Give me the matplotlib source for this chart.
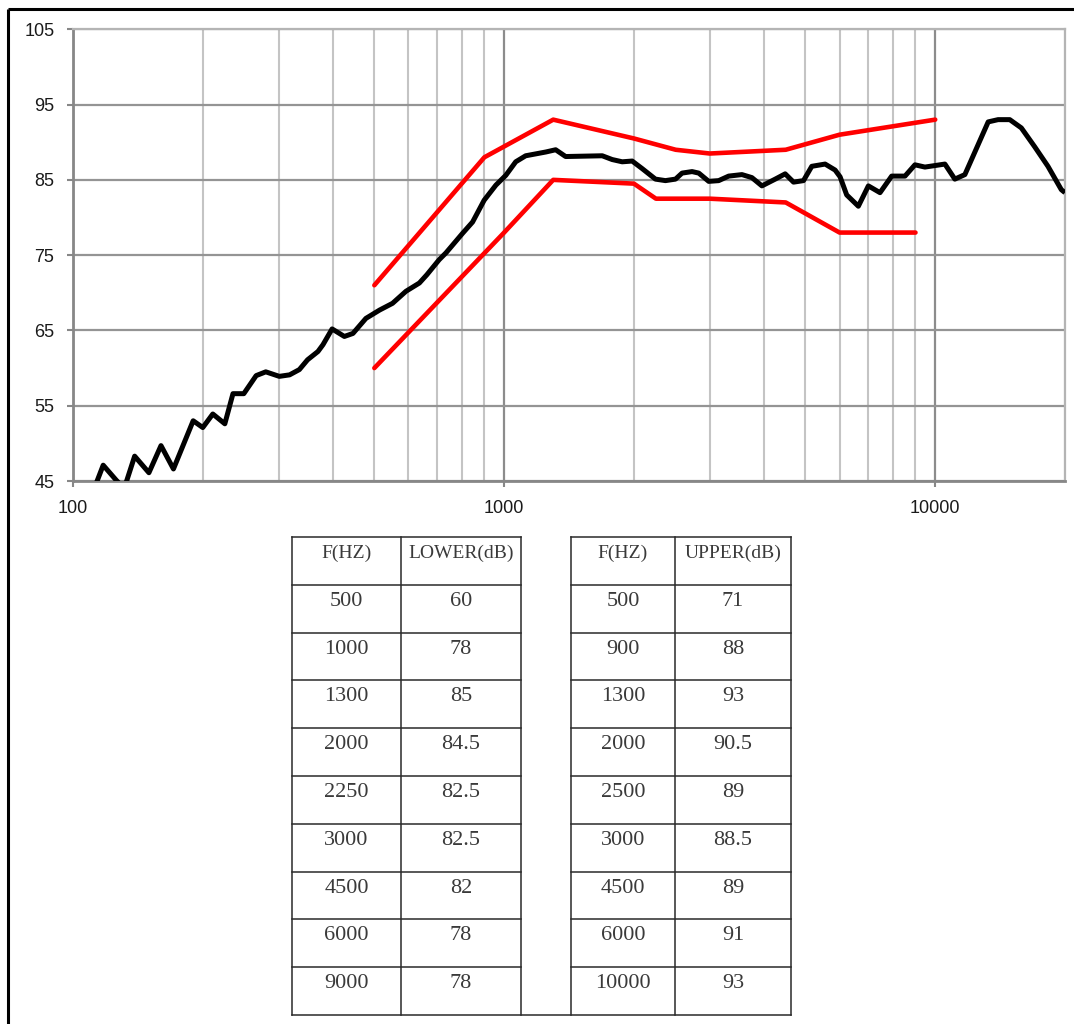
import matplotlib
matplotlib.use("Agg")
import matplotlib.pyplot as plt
from matplotlib.ticker import LogLocator, FuncFormatter, NullFormatter, FixedLocator

# ---------------- data ----------------
resp_f = [112, 117.5, 126, 130, 133, 139, 150, 160, 171, 190, 200, 211, 225, 235, 249,
          266, 280, 301, 318, 335, 350, 370, 380, 399, 426, 446, 478, 514, 551, 592,
          636, 662, 707, 733, 801, 845, 899, 957, 1009, 1064, 1122, 1249, 1317, 1389,
          1689, 1781, 1879, 1982, 2090, 2244, 2367, 2498, 2587, 2729, 2828, 2983, 3146,
          3318, 3562, 3756, 3963, 4255, 4487, 4692, 4948, 5172, 5554, 5859, 6017, 6232,
          6633, 6997, 7446, 7925, 8509, 8974, 9465, 10530, 11105, 11716, 13270, 13990,
          14890, 15840, 17010, 18260, 19610, 20000]
resp_db = [44.0, 47.1, 45.1, 44.3, 44.9, 48.3, 46.1, 49.7, 46.6, 53.0, 52.1, 53.9, 52.6,
           56.6, 56.6, 59.0, 59.5, 58.9, 59.1, 59.8, 61.1, 62.2, 63.1, 65.2, 64.2, 64.6,
           66.6, 67.7, 68.6, 70.2, 71.3, 72.4, 74.4, 75.3, 77.9, 79.4, 82.3, 84.3, 85.6,
           87.4, 88.2, 88.7, 89.0, 88.1, 88.2, 87.7, 87.4, 87.5, 86.5, 85.1, 84.9, 85.1,
           85.9, 86.1, 85.9, 84.8, 84.9, 85.5, 85.7, 85.3, 84.2, 85.1, 85.8, 84.7, 84.9,
           86.8, 87.1, 86.3, 85.4, 83.0, 81.5, 84.2, 83.3, 85.5, 85.5, 87.0, 86.7, 87.1,
           85.1, 85.7, 92.7, 93.0, 93.0, 91.9, 89.4, 86.8, 83.7, 83.3]

lower_f = [500, 1000, 1300, 2000, 2250, 3000, 4500, 6000, 9000]
lower_db = [60, 78, 85, 84.5, 82.5, 82.5, 82, 78, 78]
upper_f = [500, 900, 1300, 2000, 2500, 3000, 4500, 6000, 10000]
upper_db = [71, 88, 93, 90.5, 89, 88.5, 89, 91, 93]

y_ticks = [45, 55, 65, 75, 85, 95, 105]
x_tick_labels = ["100", "1000", "10000"]
header_left = ["F(HZ)", "LOWER(dB)"]
header_right = ["F(HZ)", "UPPER(dB)"]
lower_db_labels = ["60", "78", "85", "84.5", "82.5", "82.5", "82", "78", "78"]
upper_db_labels = ["71", "88", "93", "90.5", "89", "88.5", "89", "91", "93"]

# ---------------- figure ----------------
W, H = 1074, 1024
fig = plt.figure(figsize=(W / 100, H / 100), dpi=100)
fig.patch.set_facecolor("white")

x0, x1, y0, y1 = 73, 1065, 29.3, 481
ax = fig.add_axes([x0 / W, 1 - y1 / H, (x1 - x0) / W, (y1 - y0) / H])
ax.set_xscale("log")
ax.set_xlim(100, 20000)
ax.set_ylim(45, 105)
ax.set_yticks(y_ticks)
ax.xaxis.set_major_locator(FixedLocator([100, 1000, 10000]))
ax.xaxis.set_major_formatter(FuncFormatter(lambda v, p: {100: x_tick_labels[0], 1000: x_tick_labels[1], 10000: x_tick_labels[2]}.get(int(round(v)), "")))
ax.xaxis.set_minor_locator(LogLocator(base=10, subs=range(2, 10)))
ax.xaxis.set_minor_formatter(NullFormatter())

ax.set_axisbelow(True)
ax.grid(which="major", axis="y", color="#949494", lw=1.6)
ax.grid(which="major", axis="x", color="#8c8c8c", lw=1.6)
ax.grid(which="minor", axis="x", color="#c4c4c4", lw=1.5)

for side in ["left", "bottom"]:
    ax.spines[side].set_color("#878787")
    ax.spines[side].set_linewidth(2.0)
for side in ["top", "right"]:
    ax.spines[side].set_color("#b4b4b4")
    ax.spines[side].set_linewidth(1.6)

ax.tick_params(which="major", direction="out", length=4.5, width=1.5, color="#878787",
               pad=9, labelsize=13, labelcolor="#1a1a1a")
ax.tick_params(which="minor", length=0)
for t in ax.get_xticklabels() + ax.get_yticklabels():
    t.set_fontfamily(["Liberation Sans", "DejaVu Sans"])

ax.plot(upper_f, upper_db, color="#ff0000", lw=3.3, solid_joinstyle="round", solid_capstyle="round", zorder=3)
ax.plot(lower_f, lower_db, color="#ff0000", lw=3.3, solid_joinstyle="round", solid_capstyle="round", zorder=3)
ax.plot(resp_f, resp_db, color="#000000", lw=3.6, solid_joinstyle="round", solid_capstyle="butt", zorder=4)

# ---------------- overlay (border + table) ----------------
ov = fig.add_axes([0, 0, 1, 1])
ov.set_xlim(0, W)
ov.set_ylim(H, 0)
ov.axis("off")

# page border (top and left)
ov.plot([8, W], [9, 9], color="black", lw=2.2, solid_capstyle="butt")
ov.plot([8, 8], [9, H], color="black", lw=2.2, solid_capstyle="butt")

cols_l = [292, 401, 521]
cols_r = [571, 675, 791]
top, rh, nrows = 537, 47.8, 10
rows = [top + rh * i for i in range(nrows + 1)]
lc = "#2a2a2a"
for cols in (cols_l, cols_r):
    for cx in cols:
        ov.plot([cx, cx], [rows[0], rows[-1]], color=lc, lw=1.1)
    for ry in rows[:-1]:
        ov.plot([cols[0], cols[-1]], [ry, ry], color=lc, lw=1.1)
ov.plot([cols_l[0], cols_r[-1]], [rows[-1], rows[-1]], color=lc, lw=1.1)

tfont = ["Liberation Serif", "Noto Sans CJK SC", "DejaVu Serif"]
tcol = "#3a3a3a"
def cell_text(cols, ci, ri, s, size=16):
    cx = (cols[ci] + cols[ci + 1]) / 2
    cy = rows[ri] + 16.5
    ov.text(cx, cy, s, ha="center", va="center", family=tfont, size=size, color=tcol)

for ci, s in enumerate(header_left):
    cell_text(cols_l, ci, 0, s, size=14)
for ci, s in enumerate(header_right):
    cell_text(cols_r, ci, 0, s, size=14)
for i in range(len(lower_f)):
    cell_text(cols_l, 0, i + 1, str(lower_f[i]))
    cell_text(cols_l, 1, i + 1, lower_db_labels[i])
    cell_text(cols_r, 0, i + 1, str(upper_f[i]))
    cell_text(cols_r, 1, i + 1, upper_db_labels[i])

fig.savefig("out.png", dpi=100)
